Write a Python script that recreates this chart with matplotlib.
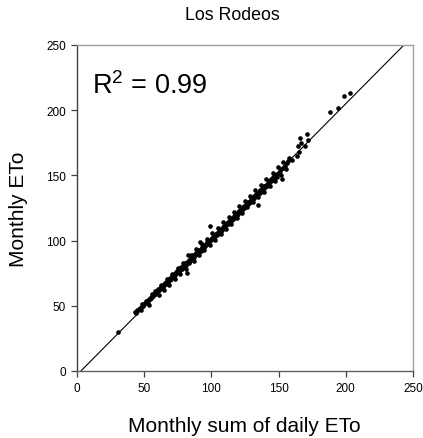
import matplotlib
matplotlib.use("Agg")
import matplotlib.pyplot as plt
import numpy as np

plt.rcParams['font.family'] = ['Liberation Sans', 'DejaVu Sans']
plt.rcParams['mathtext.fontset'] = 'custom'
plt.rcParams['mathtext.rm'] = 'Liberation Sans'
plt.rcParams['mathtext.it'] = 'Liberation Sans:italic'

title = "Los Rodeos"
x_label = "Monthly sum of daily ETo"
y_label = "Monthly ETo"
r2_text = "R$^{\\mathrm{2}}$ = 0.99"
ticks = [0, 50, 100, 150, 200, 250]
fit_slope = 1.04
fit_intercept = -3.0

daily_sum = [
    30.3, 43, 44, 45, 46, 47, 47.5, 48, 49, 50, 50.5, 51, 52, 52.5, 53, 54, 54.5, 55,
    55.5, 56, 56.5, 57, 57.5, 58, 58.5, 59, 59.5, 60, 60.5, 61, 61.5, 62, 62.5, 63,
    63.5, 64, 64.5, 65, 65.5, 66, 66.5, 67, 67.5, 68, 68.5, 69, 69.5, 70, 70.5, 71,
    71.5, 72, 72.5, 73, 73.5, 74, 74.5, 75, 75.5, 76, 76.5, 77, 77.5, 78, 78.5, 79,
    79.5, 80, 80.5, 81, 81.6, 82, 82.8, 83, 83.5, 84, 84.5, 85, 85.5, 86, 86.5, 87,
    87.5, 88, 88.5, 89, 89.5, 90, 90.5, 91, 91.5, 92, 92.5, 93, 93.5, 94, 94.5, 95,
    95.5, 96, 96.5, 97, 97.5, 98, 98.5, 99, 99.5, 100, 100.5, 101, 101.5, 102, 102.5,
    103, 103.5, 104, 104.5, 105, 105.5, 106, 106.5, 107, 107.5, 108, 108.5, 109,
    109.5, 110, 110.5, 111, 111.5, 112, 112.5, 113, 113.5, 114, 114.5, 115, 115.5,
    116, 116.5, 117, 117.5, 118, 118.5, 119, 119.5, 120, 120.5, 121, 121.5, 122,
    122.5, 123, 123.5, 124, 124.5, 125, 125.5, 126, 126.5, 127, 127.5, 128, 128.5,
    129, 129.5, 130, 130.5, 131, 131.5, 132, 132.5, 133, 133.5, 134, 135, 135, 135.5,
    136, 136.5, 137, 137.5, 138, 138.5, 139, 139.5, 140, 140.5, 141, 142, 142.5, 143,
    144, 144.5, 145, 146, 146.5, 147, 148, 148.5, 149, 150, 150.5, 151, 152.3, 152,
    153, 154, 155, 156, 157, 163.4, 164.7, 165.4, 166, 167, 169.6, 171, 171.6, 188,
    194.2, 198.7, 203,
]
monthly = [
    30.1, 45.5, 44.8, 46.9, 47.5, 48.3, 46.8, 49.6, 50.2, 51.0, 52.3, 51.8, 53.4, 52.0,
    54.6, 55.2, 56.3, 55.9, 57.4, 57.0, 58.3, 57.9, 59.4, 59.0, 60.6, 60.0, 61.5, 61.1,
    62.7, 61.8, 63.4, 62.6, 64.5, 63.8, 65.2, 64.6, 66.4, 65.9, 67.6, 66.8, 68.3, 67.7,
    69.5, 68.6, 70.4, 69.5, 71.6, 70.7, 72.5, 71.4, 73.8, 72.6, 74.5, 73.4, 75.9, 74.8,
    76.5, 75.6, 77.4, 76.9, 78.6, 77.5, 79.7, 78.4, 80.3, 79.6, 81.4, 80.3, 82.7, 81.5,
    74.9, 83.5, 89.0, 82.8, 85.1, 84.4, 86.3, 85.7, 87.2, 86.9, 88.8, 87.6, 89.5, 88.9,
    90.6, 89.4, 91.4, 90.8, 92.5, 91.2, 98.7, 93.4, 92.4, 94.9, 94.1, 95.8, 95.0, 96.7,
    96.2, 97.4, 97.3, 98.6, 98.3, 99.8, 99.2, 111.5, 100.9, 100.3, 101.8, 101.4, 103.0,
    102.2, 104.1, 103.4, 105.0, 104.3, 106.1, 105.5, 107.0, 106.2, 108.3, 107.6, 109.1,
    108.5, 110.3, 109.4, 111.2, 110.0, 112.4, 111.8, 113.5, 112.6, 114.3, 113.9, 115.6,
    114.5, 116.4, 115.6, 117.4, 116.9, 118.6, 117.3, 119.5, 118.7, 120.3, 119.6, 121.6,
    120.6, 122.4, 121.8, 123.5, 122.7, 124.6, 123.5, 125.4, 124.9, 126.7, 125.6, 127.6,
    126.5, 128.6, 127.9, 129.4, 128.8, 130.7, 129.6, 131.6, 131.0, 132.4, 131.8, 133.9,
    132.7, 134.5, 134.2, 135.8, 134.9, 127.3, 136.5, 137.4, 136.6, 138.6, 137.8, 139.3,
    139.0, 141.2, 140.1, 141.8, 141.4, 142.6, 142.2, 143.8, 145.5, 144.1, 145.7, 147.2,
    146.3, 148.4, 147.5, 149.6, 150.3, 149.1, 151.4, 152.2, 151.6, 153.5, 147.2, 154.6,
    155.3, 156.5, 157.4, 159.5, 160.8, 165.1, 172.3, 168.2, 178.7, 174.8, 172.3, 181.7,
    177.4, 198.6, 201.7, 210.6, 213.0,
]

# second batch of months with wider scatter about the fit
daily_sum_b = [
    48.5, 51.5, 53.5, 56, 58.2, 60.8, 62.8, 64.8, 66.8, 68.8, 70.8, 72.8, 74.8, 76.8,
    78.8, 80.8, 84.8, 86.8, 88.8, 90.8, 92.8, 94.8, 96.8, 98.8, 100.8, 102.8, 104.8,
    106.8, 108.8, 110.8, 112.8, 114.8, 116.8, 118.8, 120.8, 122.8, 124.8, 126.8,
    128.8, 130.8, 132.8, 134.5, 136.8, 138.8, 140.8, 143.5, 145.5, 147.5, 149.5,
    151.5, 153.5, 155.5, 158, 160,
]
monthly_b = [
    51.2, 54.0, 50.8, 59.3, 61.0, 58.1, 66.0, 62.5, 70.3, 66.2, 74.6, 70.4, 78.9, 74.6,
    83.0, 78.4, 88.9, 84.3, 93.2, 88.6, 97.1, 92.5, 101.6, 96.9, 105.7, 100.8, 109.8,
    104.9, 114.0, 109.0, 118.2, 113.1, 122.3, 117.2, 126.4, 121.3, 130.6, 125.5,
    134.5, 129.6, 138.9, 133.5, 143.0, 137.6, 147.3, 142.2, 152.0, 146.0, 156.4,
    150.2, 160.0, 155.0, 163.0, 161.5,
]

W, H = 423, 439
fig = plt.figure(figsize=(W / 100, H / 100), dpi=100)
ax = fig.add_axes([77 / W, 1 - 372 / H, 336 / W, 326 / H])

ax.scatter(daily_sum, monthly, s=11, c='black', marker='o', linewidths=0, zorder=3)
ax.scatter(daily_sum_b, monthly_b, s=11, c='black', marker='o', linewidths=0, zorder=3)

x0 = -fit_intercept / fit_slope
x1 = (250 - fit_intercept) / fit_slope
lx = np.array([x0, x1])
ax.plot(lx, fit_slope * lx + fit_intercept, color='black', lw=0.8, zorder=2)

ax.set_xlim(0, 250)
ax.set_ylim(0, 250)
ax.set_xticks(ticks)
ax.set_yticks(ticks)
ax.tick_params(axis='both', direction='out', length=4, width=0.9, labelsize=8.5,
               colors='#404040', labelcolor='black', pad=4)

ax.spines['left'].set_color('#404040')
ax.spines['bottom'].set_color('#606060')
ax.spines['top'].set_color('#a0a0a0')
ax.spines['right'].set_color('#a0a0a0')
for s in ax.spines.values():
    s.set_linewidth(1.0)

ax.text(11, 213, r2_text, fontsize=19.5, ha='left', va='baseline')

fig.text(232 / W, 1 - 20 / H, title, fontsize=12.8, ha='center', va='baseline')
fig.text(244 / W, 1 - 432 / H, x_label, fontsize=15, ha='center', va='baseline')
fig.text(18.5 / W, 1 - 209 / H, y_label, fontsize=15, ha='center', va='center', rotation=90)

fig.savefig("out.png", dpi=100)
